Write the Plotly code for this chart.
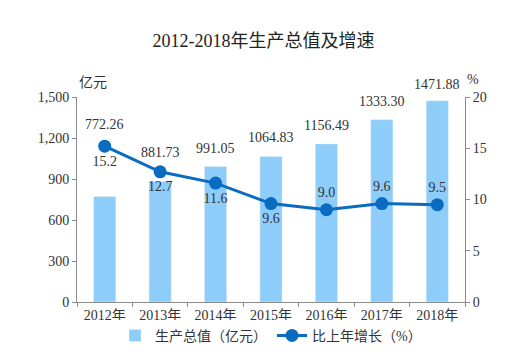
import plotly.graph_objects as go

years = ["2012年", "2013年", "2014年", "2015年", "2016年", "2017年", "2018年"]
gdp = [772.26, 881.73, 991.05, 1064.83, 1156.49, 1333.30, 1471.88]
growth = [15.2, 12.7, 11.6, 9.6, 9.0, 9.6, 9.5]
gdp_labels = ["772.26", "881.73", "991.05", "1064.83", "1156.49", "1333.30", "1471.88"]
growth_labels = ["15.2", "12.7", "11.6", "9.6", "9.0", "9.6", "9.5"]

# label placement (style only)
gdp_label_shift = [62, 20, 9, 9, 9, 9, 7]
growth_pos = ["bottom center"] * 4 + ["top center"] * 3

FONT = "Liberation Serif, Noto Sans CJK SC, serif"
BAR_COLOR = "#8ECDFA"
LINE_COLOR = "#0A6CC0"
AXIS_COLOR = "#8c8c8c"
TXT = "#333333"

fig = go.Figure()
fig.add_trace(go.Bar(
    x=years, y=gdp, name="生产总值（亿元）", marker_color=BAR_COLOR,
    width=0.4, yaxis="y",
))
fig.add_trace(go.Scatter(
    x=years, y=growth, name="比上年增长（%）", yaxis="y2",
    mode="lines+markers+text", text=growth_labels, textposition=growth_pos,
    textfont=dict(size=14, color=TXT, family=FONT),
    line=dict(color=LINE_COLOR, width=3),
    marker=dict(color=LINE_COLOR, size=13),
))

for x, y, t, s in zip(years, gdp, gdp_labels, gdp_label_shift):
    fig.add_annotation(x=x, y=y, text=t, showarrow=False, yshift=s, xref="x", yref="y",
                       yanchor="bottom", font=dict(size=14, color=TXT, family=FONT))

fig.add_annotation(x=0.0, y=1.0, xref="paper", yref="paper", text="亿元", showarrow=False,
                   xanchor="left", yanchor="bottom", yshift=5,
                   font=dict(size=14, color=TXT, family=FONT))
fig.add_annotation(x=1.0, y=1.0, xref="paper", yref="paper", text="%", showarrow=False,
                   xanchor="left", yanchor="bottom", yshift=8,
                   font=dict(size=14, color=TXT, family=FONT))

fig.update_layout(
    width=511, height=358,
    margin=dict(l=69, r=54, t=89, b=64),
    plot_bgcolor="white", paper_bgcolor="white",
    title=dict(text="2012-2018年生产总值及增速", x=0.5, xanchor="center", y=0.91, yanchor="middle",
               font=dict(size=18, color="#222222", family=FONT)),
    font=dict(family=FONT, size=14, color=TXT),
    xaxis=dict(showline=True, linecolor=AXIS_COLOR, ticks="outside", tickson="boundaries",
               ticklen=4, tickcolor=AXIS_COLOR, showgrid=False,
               tickfont=dict(size=14, color=TXT)),
    yaxis=dict(range=[0, 1500], dtick=300, tickformat=",", showline=True, linecolor=AXIS_COLOR,
               ticks="outside", ticklen=4, tickcolor=AXIS_COLOR, showgrid=False, zeroline=False,
               tickfont=dict(size=14, color=TXT)),
    yaxis2=dict(range=[0, 20], dtick=5, overlaying="y", side="right", showline=True,
                linecolor=AXIS_COLOR, ticks="outside", ticklen=4, tickcolor=AXIS_COLOR,
                showgrid=False, zeroline=False, tickfont=dict(size=14, color=TXT)),
    legend=dict(orientation="h", x=0.5, xanchor="center", y=-0.165, yanchor="middle",
                font=dict(size=14, color=TXT), itemwidth=30),
    bargap=0.6,
)

fig.write_html("out.html")
